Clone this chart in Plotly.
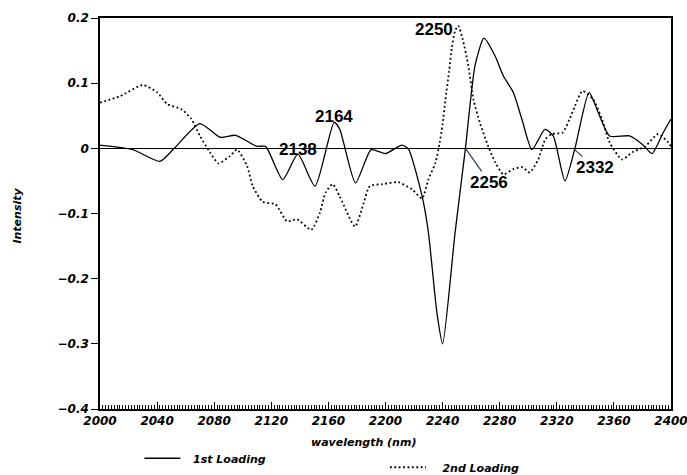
import plotly.graph_objects as go

# 1st loading (solid)
x1 = [2000, 2023, 2042, 2052, 2070, 2084, 2095, 2110, 2116, 2128, 2138.6, 2150.6, 2164, 2168,
      2179, 2190, 2200, 2211.5, 2216, 2225.6, 2230, 2236, 2240, 2248.7, 2256, 2262.7, 2269,
      2276.7, 2282.6, 2289.5, 2295.5, 2302.6, 2311.7, 2317.5, 2325.7, 2332.7, 2342.6, 2349,
      2357, 2371, 2380, 2386.7, 2394.5, 2400]
y1 = [0.005, -0.002, -0.020, 0.000, 0.038, 0.017, 0.020, 0.003, 0.003, -0.048, -0.009, -0.058,
      0.040, 0.029, -0.053, -0.002, -0.008, 0.005, -0.001, -0.073, -0.128, -0.252, -0.300,
      -0.130, 0.000, 0.127, 0.169, 0.142, 0.111, 0.086, 0.045, -0.002, 0.029, 0.019, -0.050,
      0.000, 0.086, 0.055, 0.019, 0.019, 0.006, -0.008, 0.024, 0.045]

# 2nd loading (dotted)
x2 = [2000, 2014, 2030, 2040, 2047, 2057, 2064, 2070, 2077, 2083, 2091, 2096, 2103, 2107, 2114,
      2123, 2131, 2138, 2148, 2154, 2158, 2163, 2168, 2178.6, 2184, 2189, 2198, 2209, 2218.6,
      2225.6, 2230, 2235, 2238, 2240, 2242, 2244.5, 2246.5, 2248.7, 2251, 2254, 2258, 2261.6,
      2266, 2272, 2277, 2282.6, 2289.5, 2296, 2301, 2307, 2312, 2316.5, 2324, 2329, 2332.7,
      2338, 2345.5, 2351.6, 2357, 2365.7, 2373, 2382, 2391, 2398, 2400]
y2 = [0.070, 0.080, 0.097, 0.086, 0.068, 0.060, 0.045, 0.019, -0.006, -0.023, -0.012, -0.002,
      -0.027, -0.058, -0.082, -0.086, -0.112, -0.109, -0.125, -0.099, -0.068, -0.055, -0.074,
      -0.120, -0.089, -0.058, -0.055, -0.052, -0.063, -0.077, -0.048, -0.022, 0.009, 0.037,
      0.075, 0.117, 0.155, 0.180, 0.188, 0.168, 0.127, 0.075, 0.040, 0.003, -0.022, -0.040,
      -0.032, -0.029, -0.037, -0.017, 0.014, 0.022, 0.024, 0.045, 0.065, 0.088, 0.075, 0.045,
      0.009, -0.017, -0.006, 0.003, 0.022, 0.009, 0.003]

x_ticks = [2000, 2040, 2080, 2120, 2160, 2200, 2240, 2280, 2320, 2360, 2400]
y_ticks = [0.2, 0.1, 0, -0.1, -0.2, -0.3, -0.4]
y_ticktext = ["0.2", "0.1", "0", "\u22120.1", "\u22120.2", "\u22120.3", "\u22120.4"]

peak_labels = ["2250", "2164", "2138", "2256", "2332"]
peak_x = [2251, 2164, 2138.6, 2256, 2332.5]
peak_y = [0.188, 0.040, -0.009, 0.0, -0.002]

tickfont = dict(family="DejaVu Sans", size=12, color="black", style="italic", weight=600)

fig = go.Figure()
fig.add_trace(go.Scatter(x=x1, y=y1, mode="lines", name="\u00a0\u00a01st Loading",
                         line=dict(color="black", width=1.3, shape="spline", smoothing=0.6),
                         legend="legend"))
fig.add_trace(go.Scatter(x=x2, y=y2, mode="lines", name="\u00a0\u00a0\u00a02nd Loading",
                         line=dict(color="black", width=1.8, dash="1.8px,2.6px", shape="spline", smoothing=0.6),
                         legend="legend2"))

annfont = dict(family="Liberation Sans", size=17, color="black", weight="bold")
fig.add_annotation(x=peak_x[0], y=peak_y[0], text=peak_labels[0], showarrow=False,
                   xanchor="right", yanchor="middle", xshift=-3, yshift=-4, font=annfont)
fig.add_annotation(x=peak_x[1], y=peak_y[1], text=peak_labels[1], showarrow=False,
                   yanchor="bottom", yshift=-6, font=annfont)
fig.add_annotation(x=peak_x[2], y=peak_y[2], text=peak_labels[2], showarrow=False,
                   yanchor="middle", yshift=5, font=annfont)
fig.add_annotation(x=peak_x[3], y=peak_y[3], text=peak_labels[3], showarrow=True,
                   arrowhead=0, arrowwidth=1.2, ax=24, ay=34, font=annfont)
fig.add_annotation(x=peak_x[4], y=peak_y[4], text=peak_labels[4], showarrow=True,
                   arrowhead=0, arrowwidth=1.2, ax=20, ay=18, font=annfont)

axfont = dict(family="DejaVu Sans", size=11, color="black", style="italic", weight=600)
fig.add_annotation(xref="paper", yref="paper", x=0.462, y=-0.107, text="wavelength (nm)",
                   showarrow=False, font=axfont)
fig.add_annotation(xref="paper", yref="paper", x=-0.16, y=0.495, text="Intensity",
                   textangle=-90, showarrow=False, font=axfont)

legfont = dict(family="DejaVu Sans", size=11, color="black", style="italic", weight=600)
fig.update_layout(
    width=687, height=475,
    margin=dict(l=100, r=16, t=18, b=66, autoexpand=False),
    paper_bgcolor="white", plot_bgcolor="white",
    showlegend=True,
    legend=dict(x=0.069, y=-0.126, xanchor="left", yanchor="middle", orientation="h",
                font=legfont, bgcolor="rgba(0,0,0,0)", itemwidth=36),
    legend2=dict(x=0.499, y=-0.149, xanchor="left", yanchor="middle", orientation="h",
                 font=legfont, bgcolor="rgba(0,0,0,0)", itemwidth=36),
    xaxis=dict(range=[2000, 2400], tickvals=x_ticks, ticks="inside", ticklen=7,
               tickcolor="black", tickwidth=1, showgrid=False, zeroline=False,
               showline=True, linecolor="black", linewidth=1.5, mirror=True,
               tickfont=tickfont, ticklabeloverflow="allow",
               minor=dict(dtick=2, ticks="inside", ticklen=4, tickcolor="black", tickwidth=0.8,
                          showgrid=False)),
    yaxis=dict(range=[-0.4, 0.2], tickvals=y_ticks, ticktext=y_ticktext, ticks="outside",
               ticklen=7, tickcolor="black", showgrid=False,
               zeroline=True, zerolinecolor="black", zerolinewidth=1,
               showline=True, linecolor="black", linewidth=1.5, mirror=True,
               tickfont=tickfont),
)

fig.write_html("out.html", config={"displayModeBar": False},
               post_script="document.body.style.margin='0';document.body.style.overflow='hidden';")
